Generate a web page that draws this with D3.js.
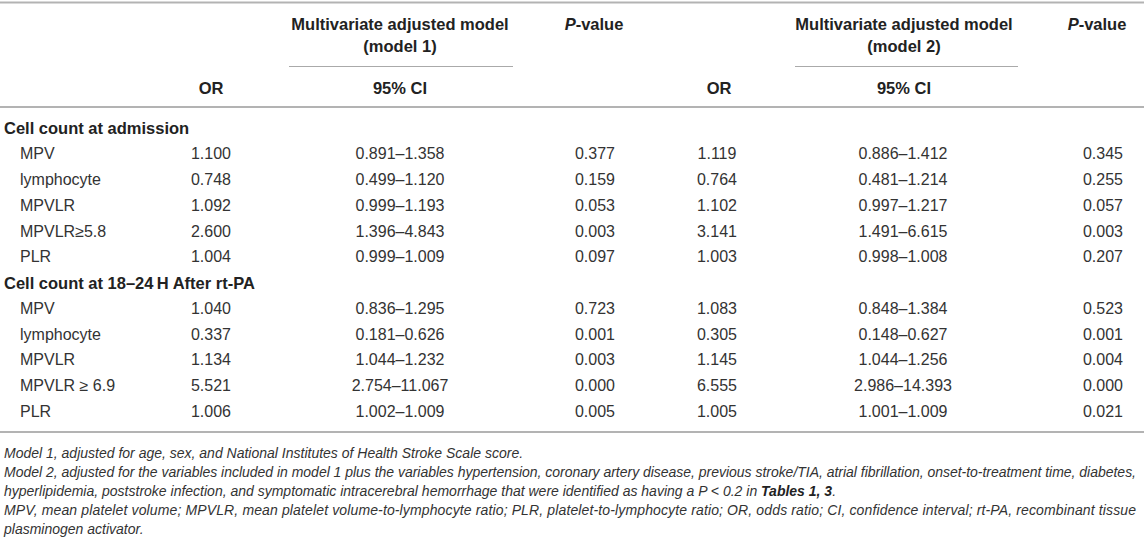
<!DOCTYPE html>
<html><head><meta charset="utf-8">
<script src="https://cdn.jsdelivr.net/npm/d3@7"></script>
<style>body{margin:0;background:#fff}svg{display:block}</style>
</head><body><svg id="c" width="1144" height="544"></svg>
<script>
const groups = ["Cell count at admission", "Cell count at 18–24\u2009H After rt-PA"];
const variables = ["MPV", "lymphocyte", "MPVLR", "MPVLR≥5.8", "PLR", "MPV", "lymphocyte", "MPVLR", "MPVLR ≥ 6.9", "PLR"];
const or1 = ["1.100", "0.748", "1.092", "2.600", "1.004", "1.040", "0.337", "1.134", "5.521", "1.006"];
const ci1 = ["0.891–1.358", "0.499–1.120", "0.999–1.193", "1.396–4.843", "0.999–1.009", "0.836–1.295", "0.181–0.626", "1.044–1.232", "2.754–11.067", "1.002–1.009"];
const p1 = ["0.377", "0.159", "0.053", "0.003", "0.097", "0.723", "0.001", "0.003", "0.000", "0.005"];
const or2 = ["1.119", "0.764", "1.102", "3.141", "1.003", "1.083", "0.305", "1.145", "6.555", "1.005"];
const ci2 = ["0.886–1.412", "0.481–1.214", "0.997–1.217", "1.491–6.615", "0.998–1.008", "0.848–1.384", "0.148–0.627", "1.044–1.256", "2.986–14.393", "1.001–1.009"];
const p2 = ["0.345", "0.255", "0.057", "0.003", "0.207", "0.523", "0.001", "0.004", "0.000", "0.021"];
const footnotes = [
  [["Model 1, adjusted for age, sex, and National Institutes of Health Stroke Scale score.", ""]],
  [["Model 2, adjusted for the variables included in model 1 plus the variables hypertension, coronary artery disease, previous stroke/TIA, atrial fibrillation, onset-to-treatment time, diabetes,", "j"]],
  [["hyperlipidemia, poststroke infection, and symptomatic intracerebral hemorrhage that were identified as having a ", ""], ["P", ""], [" < 0.2 in ", ""], ["Tables 1, 3", "b"], [".", ""]],
  [["MPV, mean platelet volume; MPVLR, mean platelet volume-to-lymphocyte ratio; PLR, platelet-to-lymphocyte ratio; OR, odds ratio; CI, confidence interval; rt-PA, recombinant tissue", "j"]],
  [["plasminogen activator.", ""]]
];

const W = 1144, H = 544;
const FONT = "'Liberation Sans', Arial, Helvetica, sans-serif";
const svg = d3.select("#c").style("font-family", FONT);

const rows = [];
let k = 0;
groups.forEach((g) => {
  rows.push({type: "group", label: g});
  for (let i = 0; i < 5; i++) { rows.push({type: "item", idx: k, label: variables[k]}); k++; }
});

const y = d3.scalePoint().domain(d3.range(rows.length)).range([128, 411.5]);
const cols = ["or1", "ci1", "p1", "or2", "ci2", "p2"];
const colData = {or1, ci1, p1, or2, ci2, p2};
const xVal = d3.scaleOrdinal().domain(cols).range([211, 400, 595, 717, 903, 1103]);
const xHead = d3.scaleOrdinal().domain(cols).range([211, 400, 594, 719, 904, 1097]);

const textCol = "#333";
const ruleCol = "#b3b3b3";

const hr = (y0, x1, x2, w, c) => svg.append("line").attr("x1", x1).attr("x2", x2).attr("y1", y0).attr("y2", y0).attr("stroke", c).attr("stroke-width", w);
hr(2.5, 0, W, 2, ruleCol);
hr(107, 0, W, 2, ruleCol);
hr(432, 0, W, 2, ruleCol);
hr(66.5, 289, 513, 1, "#aaa");
hr(66.5, 795, 1018, 1, "#aaa");

const hdr = svg.append("g").attr("font-weight", "bold").attr("font-size", 16.5).attr("fill", "#222").attr("text-anchor", "middle").attr("dominant-baseline", "central");
[["ci1", "(model 1)"], ["ci2", "(model 2)"]].forEach(([c, m]) => {
  hdr.append("text").attr("x", xHead(c)).attr("y", 24).text("Multivariate adjusted model");
  hdr.append("text").attr("x", xHead(c)).attr("y", 46).text(m);
  hdr.append("text").attr("x", xHead(c)).attr("y", 88).text("95% CI");
});
["or1", "or2"].forEach(c => hdr.append("text").attr("x", xHead(c)).attr("y", 88).text("OR"));
["p1", "p2"].forEach(c => {
  const t = hdr.append("text").attr("x", xHead(c)).attr("y", 24);
  t.append("tspan").attr("font-style", "italic").text("P");
  t.append("tspan").text("-value");
});

const body = svg.append("g").attr("font-size", 16).attr("fill", textCol).attr("dominant-baseline", "central");
rows.forEach((r, i) => {
  if (r.type === "group") {
    body.append("text").attr("x", 4).attr("y", y(i)).attr("font-weight", "bold").attr("font-size", 16.5).attr("fill", "#222").text(r.label);
  } else {
    body.append("text").attr("x", 20).attr("y", y(i)).text(r.label);
    cols.forEach(c => {
      body.append("text").attr("x", xVal(c)).attr("y", y(i)).attr("text-anchor", "middle").text(colData[c][r.idx]);
    });
  }
});

const fy = d3.scalePoint().domain(d3.range(footnotes.length)).range([453, 529]);
const fn = svg.append("g").attr("font-size", 14).attr("font-style", "italic").attr("fill", textCol).attr("dominant-baseline", "central");
footnotes.forEach((parts, i) => {
  const t = fn.append("text").attr("x", 4).attr("y", fy(i));
  if (parts.length === 1 && parts[0][1] === "j") {
    t.attr("textLength", 1132).attr("lengthAdjust", "spacing").text(parts[0][0]);
  } else {
    parts.forEach(p => {
      const s = t.append("tspan").text(p[0]);
      if (p[1] === "b") s.attr("font-weight", "bold").attr("fill", "#222");
    });
  }
});
</script>
</body></html>
